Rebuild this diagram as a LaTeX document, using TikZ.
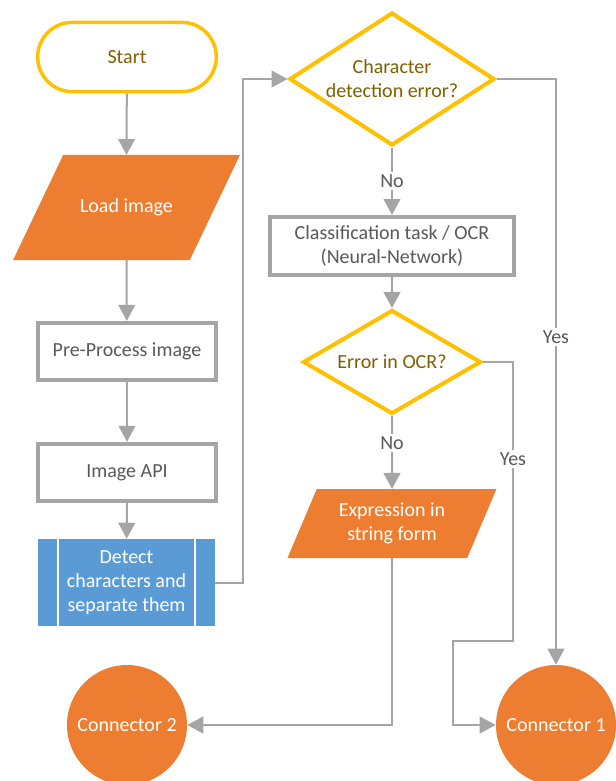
\documentclass[tikz,border=0pt]{standalone}
\usepackage{fontspec}
\setmainfont{Carlito}
\usepackage{tikz}
\usetikzlibrary{shapes.geometric, arrows.meta, positioning}
\definecolor{flowgold}{RGB}{255,192,0}
\definecolor{goldtext}{RGB}{127,96,0}
\definecolor{flowgray}{RGB}{165,165,165}
\definecolor{flowtext}{RGB}{89,89,89}
\definecolor{floworange}{RGB}{237,125,49}
\definecolor{flowblue}{RGB}{91,155,213}
\tikzset{
  terminal/.style={rectangle, draw=flowgold, fill=white, rounded corners=26pt,
    line width=2.6pt, minimum width=134pt, minimum height=52pt, text=goldtext},
  process/.style={rectangle, draw=flowgray, fill=white, line width=3pt,
    minimum width=133.5pt, minimum height=43pt, text=flowtext, align=center},
  iobox/.style={trapezium, fill=floworange, text=white, align=flush center,
    inner xsep=0pt, outer sep=0pt, text height=11pt},
  subproc/.style={rectangle, fill=flowblue, text=white, align=center,
    minimum width=132.75pt, minimum height=65.25pt, inner sep=0pt,
    path picture={
      \draw[white, line width=1.6pt]
        ([xshift=15pt]path picture bounding box.north west) --
        ([xshift=15pt]path picture bounding box.south west);
      \draw[white, line width=1.6pt]
        ([xshift=-15pt]path picture bounding box.north east) --
        ([xshift=-15pt]path picture bounding box.south east);}},
  decision/.style={diamond, draw=flowgold, fill=white, line width=3pt,
    text=goldtext, align=center, inner sep=0pt},
  connector/.style={circle, fill=floworange, text=white, minimum size=90pt, inner sep=0pt},
  arrow/.style={-{Triangle[length=12pt, width=12.5pt]}, line width=1.5pt, color=flowgray},
  answer/.style={fill=white, text=flowtext, inner sep=2pt}
}

\begin{document}
\begin{tikzpicture}[x=0.75pt, y=-0.75pt, font=\fontsize{15}{18}\selectfont]
  \useasboundingbox (0,0) rectangle (615,781);

  % Left column
  \node[terminal] (start) at (127,57) {Start};
  \node[iobox, trapezium left angle=64.5, trapezium right angle=115.5,
    text width=95pt, text depth=4pt, inner ysep=31.875pt] (load) at (126.5,207.5) {Load image};
  \node[process] (pre) at (127,351.5) {Pre-Process image};
  \node[process] (api) at (127,472.5) {Image API};
  \node[subproc] (detect) at (126.5,582.5) {Detect\\characters and\\separate them};

  % Right column
  \node[decision, aspect=1.53, minimum width=153.75pt, minimum height=99.75pt]
    (chk) at (392,79) {Character\\detection error?};
  \node[process, minimum width=183pt, minimum height=43.5pt]
    (ocr) at (392,246) {Classification task / OCR\\(Neural-Network)};
  \node[decision, aspect=1.68, minimum width=133.5pt, minimum height=78pt]
    (err) at (392,362) {Error in OCR?};
  \node[iobox, trapezium left angle=67, trapezium right angle=113,
    text width=112.8pt, text depth=22pt, inner ysep=9.375pt] (expr) at (392,523.5) {Expression in\\string form};

  % Off-page connectors
  \node[connector] (conn2) at (127,725) {Connector 2};
  \node[connector] (conn1) at (556,725) {Connector 1};
  \coordinate (jog1) at (513,641);
  \coordinate (jog2) at (453,641);

  % Flow
  \draw[arrow] (start) -- (load.north);
  \draw[arrow] (load.south) -- (pre);
  \draw[arrow] (pre) -- (api);
  \draw[arrow] (api) -- (detect);
  \draw[arrow] (detect.east) -- ++(28,0) |- (chk.west);
  \draw[arrow] (chk) -- node[answer] {No} (ocr);
  \draw[arrow] (ocr) -- (err);
  \draw[arrow] (err) -- node[answer, pos=0.37] {No} (expr.north);
  \draw[arrow] (chk.east) -| node[answer, pos=0.72] {Yes} (conn1.north);
  \draw[arrow] (err.east) -| node[answer, pos=0.674] {Yes} (jog1) -- (jog2) |- (conn1.west);
  \draw[arrow] (expr.south) |- (conn2.east);
\end{tikzpicture}
\end{document}
